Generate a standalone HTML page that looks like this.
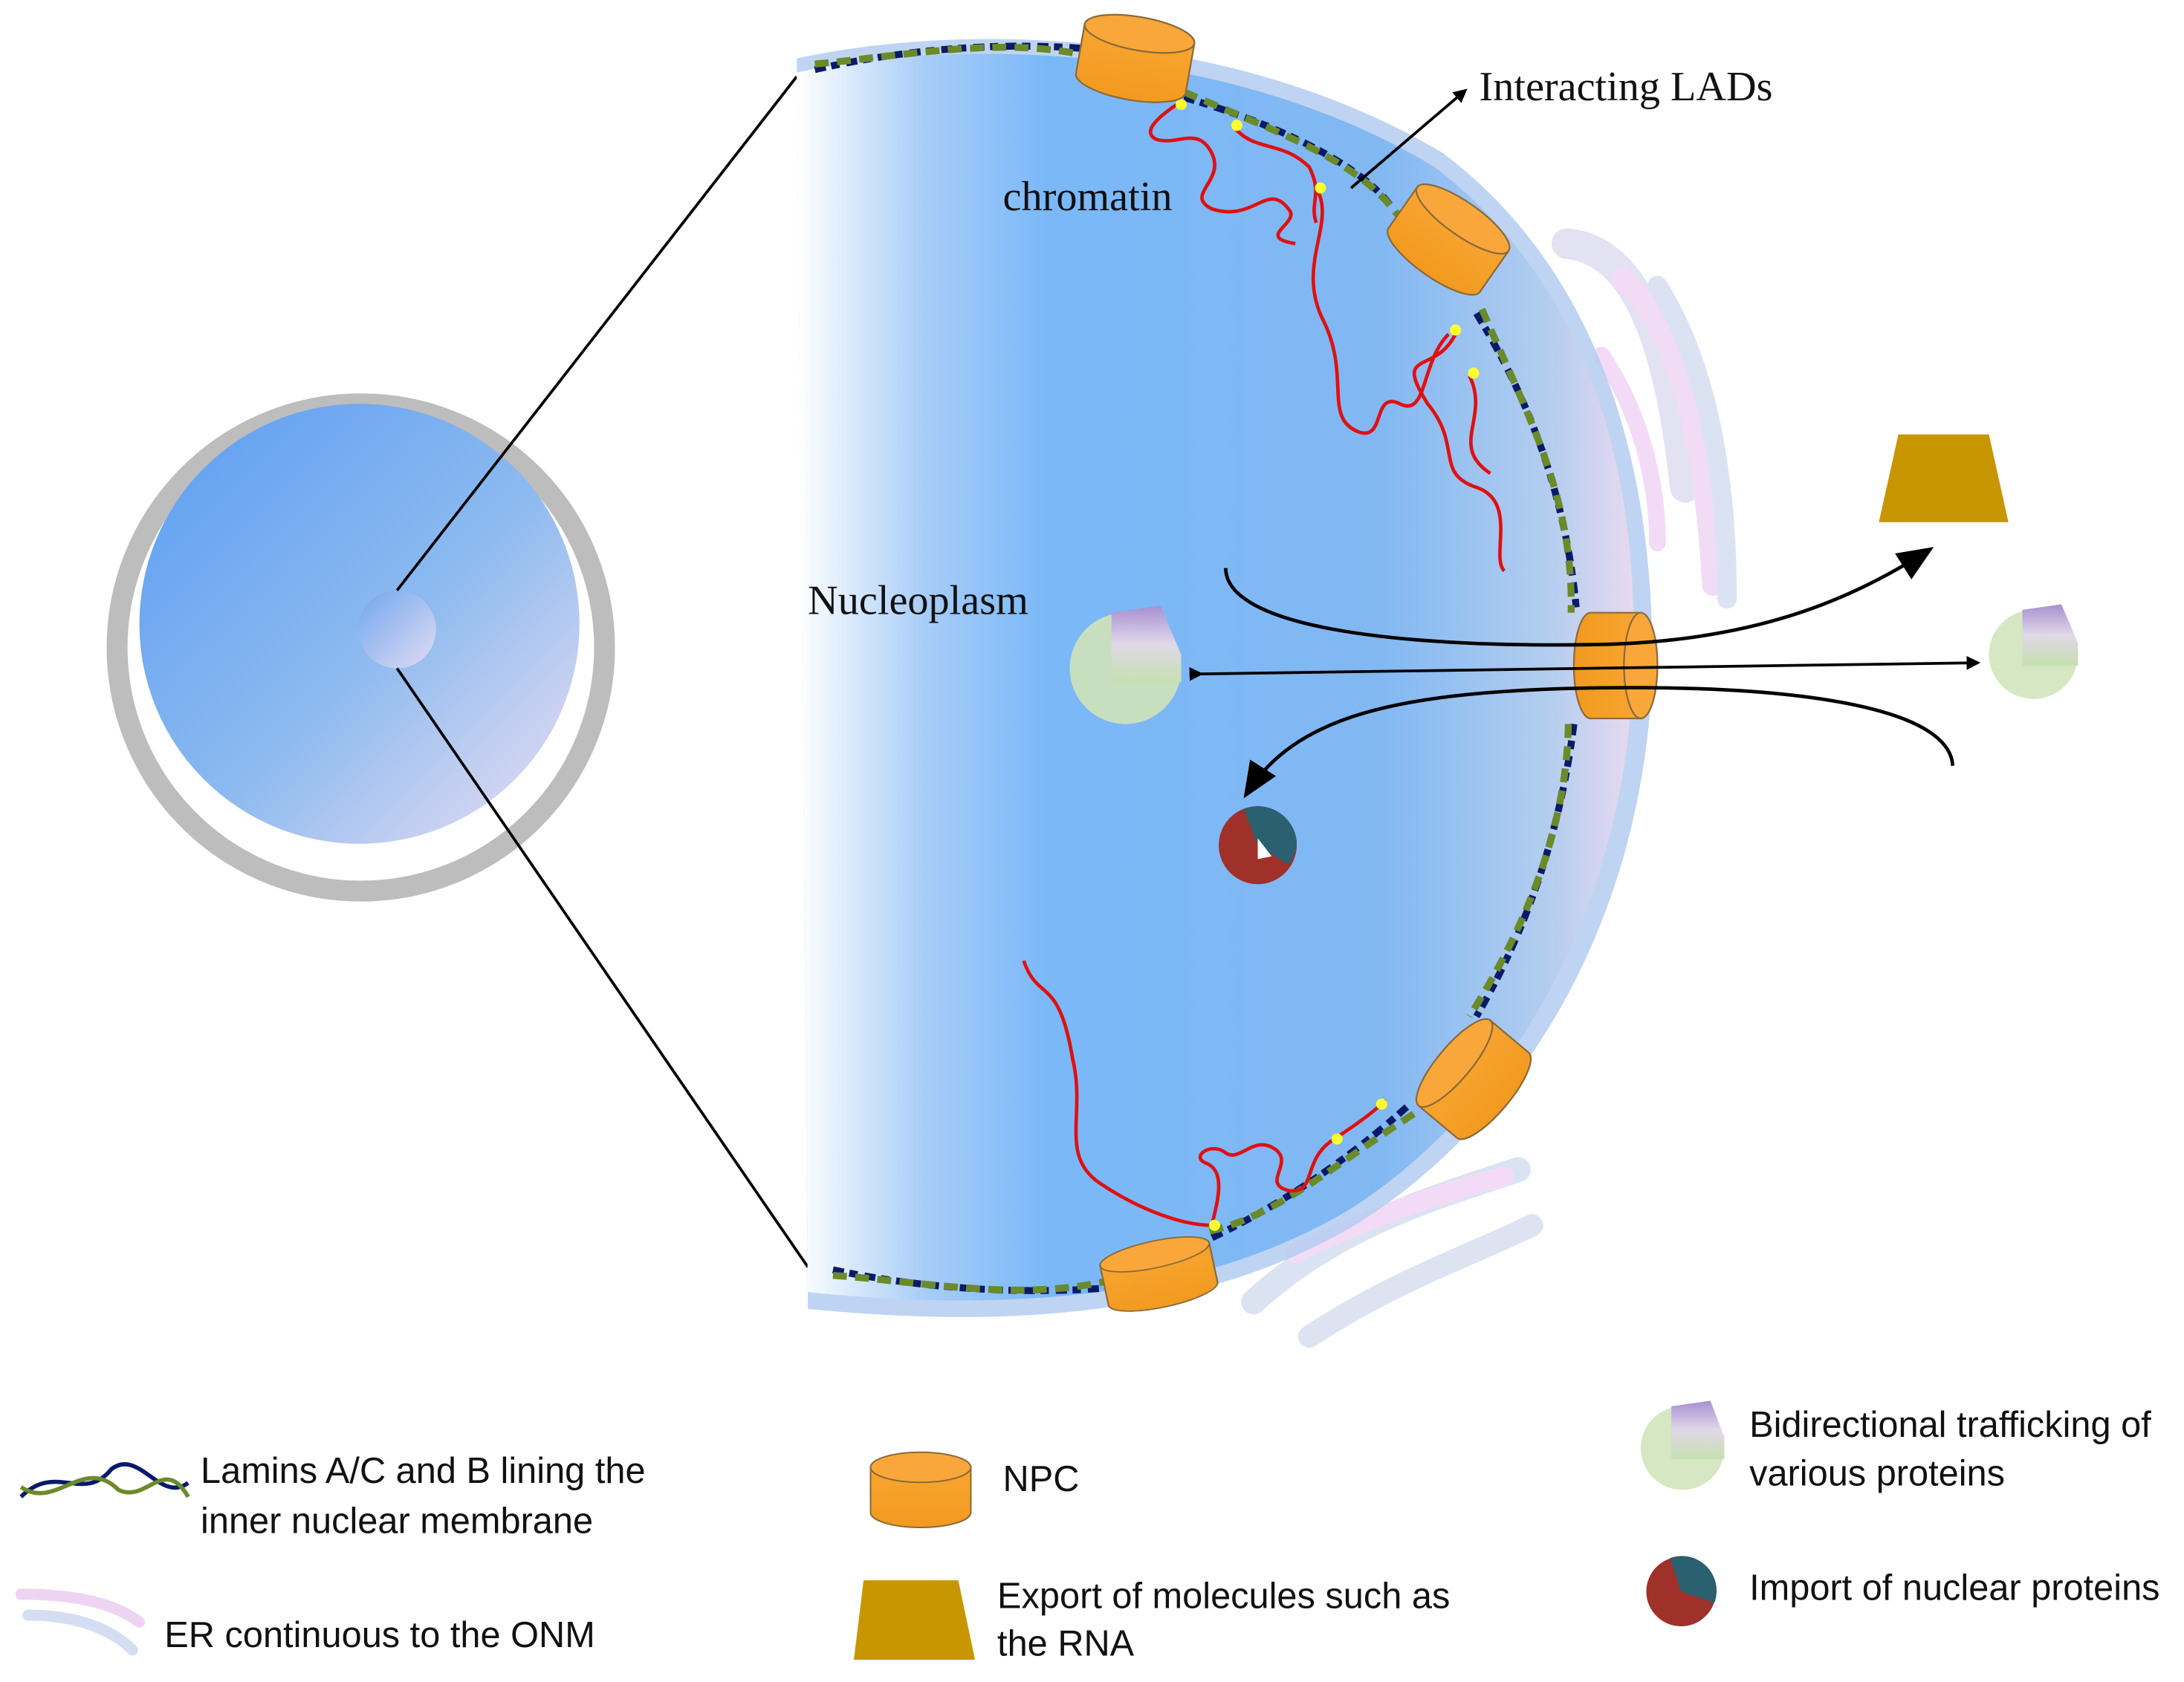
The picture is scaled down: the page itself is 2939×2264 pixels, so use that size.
<!DOCTYPE html>
<html><head><meta charset="utf-8"><style>html,body{margin:0;padding:0;background:#fff}svg{display:block}</style></head><body>
<svg width="2939" height="2264" viewBox="0 0 1568 1208" xmlns="http://www.w3.org/2000/svg">
<defs>
<linearGradient id="small" x1="0" y1="0" x2="1" y2="1"><stop offset="0" stop-color="#5b9cf2"/><stop offset="0.55" stop-color="#8dbaf0"/><stop offset="1" stop-color="#eee0f2"/></linearGradient>
<linearGradient id="tiny" x1="0" y1="0" x2="1" y2="1"><stop offset="0" stop-color="#6fa6ee"/><stop offset="1" stop-color="#e3dcf3"/></linearGradient>
<linearGradient id="big" x1="0" y1="0" x2="1" y2="0"><stop offset="0" stop-color="#ffffff"/><stop offset="0.15" stop-color="#a9cdf8"/><stop offset="0.3" stop-color="#7ab8f8"/><stop offset="0.7" stop-color="#82b8f2"/><stop offset="0.9" stop-color="#b4cdef"/><stop offset="1" stop-color="#e8d9f0"/></linearGradient>
<linearGradient id="cyl" x1="0" y1="0" x2="0" y2="1"><stop offset="0" stop-color="#f7a531"/><stop offset="1" stop-color="#f29a1f"/></linearGradient>
<linearGradient id="prot" x1="0" y1="0" x2="0" y2="1"><stop offset="0" stop-color="#a78fd0"/><stop offset="0.5" stop-color="#e0d8e8"/><stop offset="1" stop-color="#c5e0b0"/></linearGradient>
<marker id="ah" markerWidth="10" markerHeight="10" refX="8" refY="5" orient="auto" markerUnits="userSpaceOnUse"><path d="M0,0 L10,5 L0,10 z" fill="#000"/></marker>
<marker id="ahb" markerWidth="26" markerHeight="22" refX="22" refY="11" orient="auto" markerUnits="userSpaceOnUse"><path d="M0,0 L26,11 L0,22 z" fill="#000"/></marker>
<g id="npc"><path d="M-40,-18 L40,-18 L40,18 A40,12 0 0 1 -40,18 Z" fill="url(#cyl)" stroke="#8a6a3a" stroke-width="1.2"/><ellipse cx="0" cy="-18" rx="40" ry="12" fill="#f9a73a" stroke="#8a6a3a" stroke-width="1.2"/></g>
</defs>

<circle cx="259" cy="465" r="175" fill="none" stroke="#bdbdbd" stroke-width="15"/>
<circle cx="258" cy="448" r="158" fill="url(#small)"/>
<circle cx="285" cy="452" r="28" fill="url(#tiny)"/>
<line x1="285" y1="424" x2="572" y2="55" stroke="#000" stroke-width="2"/>
<line x1="285" y1="480" x2="580" y2="910" stroke="#000" stroke-width="2"/>

<g fill="none" stroke-linecap="round" opacity="0.5">
<path d="M1125,175 C1180,180 1200,260 1210,350" stroke="#c9c7e8" stroke-width="22"/>
<path d="M1165,200 C1210,240 1225,330 1230,420" stroke="#e4b8ec" stroke-width="16"/>
<path d="M1190,205 C1225,260 1240,340 1240,430" stroke="#b8c8e8" stroke-width="14"/>
<path d="M1150,255 C1180,300 1190,350 1190,390" stroke="#e8b8f0" stroke-width="12"/>
<path d="M900,935 C960,880 1030,860 1090,840" stroke="#b8c8e8" stroke-width="18"/>
<path d="M930,900 C980,875 1040,855 1080,845" stroke="#e8b8f0" stroke-width="14"/>
<path d="M940,960 C1000,920 1060,900 1100,880" stroke="#bcc8e4" stroke-width="16"/>
</g>

<path d="M572,42 C700,14 893,24 1036,110 C1145,192 1190,330 1186,490 C1178,658 1098,800 976,878 C853,952 700,952 580,940 Z" fill="#b4cdf0" opacity="0.85"/>
<path d="M572,52 C700,25 890,35 1030,120 C1135,200 1180,330 1172,490 C1165,650 1090,790 970,868 C850,940 700,940 580,928 Z" fill="url(#big)"/>

<g fill="none" stroke-width="5">
<path d="M585,50 C650,35 720,30 780,35" stroke="#0a1a6a" stroke-dasharray="8 4 6 5"/>
<path d="M585,46 C650,40 720,26 780,40" stroke="#6b8a2a" stroke-dasharray="10 6"/>
<path d="M850,70 C920,90 980,120 1000,150" stroke="#0a1a6a" stroke-dasharray="8 4 6 5"/>
<path d="M850,66 C920,96 975,115 1004,155" stroke="#6b8a2a" stroke-dasharray="10 6"/>
<path d="M1060,225 C1100,290 1125,360 1132,440" stroke="#0a1a6a" stroke-dasharray="8 4 6 5"/>
<path d="M1064,222 C1095,295 1130,355 1128,440" stroke="#6b8a2a" stroke-dasharray="10 6"/>
<path d="M1130,520 C1120,600 1095,670 1060,730" stroke="#0a1a6a" stroke-dasharray="8 4 6 5"/>
<path d="M1126,520 C1125,600 1090,675 1055,730" stroke="#6b8a2a" stroke-dasharray="10 6"/>
<path d="M1010,795 C960,840 910,870 868,890" stroke="#0a1a6a" stroke-dasharray="8 4 6 5"/>
<path d="M1015,800 C960,835 915,875 865,885" stroke="#6b8a2a" stroke-dasharray="10 6"/>
<path d="M598,912 C660,925 730,930 795,925" stroke="#0a1a6a" stroke-dasharray="8 4 6 5"/>
<path d="M598,916 C660,920 730,935 795,920" stroke="#6b8a2a" stroke-dasharray="10 6"/>
</g>

<g fill="none" stroke="#e01010" stroke-width="2.5">
<path d="M845,75 C830,85 820,95 830,100 C845,105 860,90 870,110 C880,130 850,140 870,150 C900,160 910,130 925,150 C935,160 900,170 930,175"/>
<path d="M885,90 C900,110 920,100 940,120 C950,140 940,145 945,160"/>
<path d="M945,135 C960,160 930,190 950,230 C970,270 950,300 975,310 C995,318 985,280 1005,290 C1025,300 1020,260 1040,240"/>
<path d="M1045,240 C1030,270 1000,250 1025,290 C1050,320 1030,340 1060,350 C1090,360 1070,400 1080,410"/>
<path d="M1055,270 C1070,300 1040,320 1070,340"/>
<path d="M735,690 C745,720 760,700 770,760 C780,800 760,830 790,850 C820,870 850,880 870,880"/>
<path d="M870,880 C875,860 880,840 865,835 C855,830 870,820 880,828 C890,835 900,815 915,825 C930,835 905,850 925,855 C945,858 935,835 955,820 C970,810 985,800 995,790"/>
</g>
<g fill="#ffff30"><circle cx="848" cy="75" r="4"/><circle cx="888" cy="90" r="4"/><circle cx="948" cy="135" r="4"/><circle cx="1045" cy="237" r="4"/><circle cx="1058" cy="268" r="4"/><circle cx="872" cy="880" r="4"/><circle cx="960" cy="818" r="4"/><circle cx="992" cy="793" r="4"/></g>

<use href="#npc" transform="translate(815,42) rotate(10)"/>
<use href="#npc" transform="translate(1040,172) rotate(35)"/>
<use href="#npc" transform="translate(1160,478) rotate(90) scale(0.95,1)"/>
<use href="#npc" transform="translate(1058,775) rotate(-50)"/>
<use href="#npc" transform="translate(832,915) rotate(-12) scale(1,0.8)"/>

<path d="M880,408 C880,450 1000,465 1140,463 C1260,462 1330,430 1385,395" fill="none" stroke="#000" stroke-width="2.5" marker-end="url(#ahb)"/>
<line x1="862" y1="484" x2="1420" y2="476" stroke="#000" stroke-width="2" marker-start="url(#ah)" marker-end="url(#ah)"/>
<path d="M1402,550 C1400,510 1300,492 1150,494 C1000,496 930,515 895,570" fill="none" stroke="#000" stroke-width="2.5" marker-end="url(#ahb)"/>
<line x1="970" y1="135" x2="1052" y2="65" stroke="#000" stroke-width="2" marker-end="url(#ah)"/>

<path d="M1363,312 L1428,312 L1442,375 L1349,375 Z" fill="#c89600"/>
<g transform="translate(808,480)"><circle r="40" fill="#cfe3b8" opacity="0.9"/><path d="M-10,-40 L25,-45 L40,-10 L40,10 L-10,10 Z" fill="url(#prot)"/></g>
<g transform="translate(1460,470) scale(0.8)"><circle r="40" fill="#d6e7c4"/><path d="M-10,-40 L25,-45 L40,-10 L40,10 L-10,10 Z" fill="url(#prot)"/></g>
<g transform="translate(903,607)"><circle r="28" fill="#a0302a"/><path d="M0,0 L-10,-26 A28,28 0 0 1 28,-3 Z" fill="#2a6070"/><path d="M0,0 L28,-3 A28,28 0 0 1 22,14 Z" fill="#2a6070"/><path d="M0,-5 L10,8 L0,10 Z" fill="#fff"/></g>

<g font-family="Liberation Serif, serif" font-size="30" fill="#111">
<text x="1062" y="72">Interacting LADs</text>
<text x="720" y="151">chromatin</text>
<text x="580" y="441">Nucleoplasm</text>
</g>

<g fill="none" stroke-width="3"><path d="M15,1075 C40,1050 60,1080 80,1055 C100,1040 115,1080 135,1065" stroke="#0a1a6a"/><path d="M15,1068 C40,1085 60,1045 85,1070 C105,1080 118,1045 135,1075" stroke="#6b8a2a"/></g>
<g fill="none" stroke-linecap="round" opacity="0.6"><path d="M15,1145 C50,1145 80,1150 100,1165" stroke="#e4b8ec" stroke-width="8"/><path d="M20,1160 C55,1160 80,1170 95,1185" stroke="#b8c8e8" stroke-width="8"/></g>
<use href="#npc" transform="translate(661,1070) scale(0.9,0.9)"/>
<path d="M620,1135 L688,1135 L700,1192 L613,1192 Z" fill="#c89600"/>
<g transform="translate(1208,1040)"><circle r="30" fill="#d6e7c4"/><path d="M-8,-30 L20,-34 L30,-8 L30,8 L-8,8 Z" fill="url(#prot)"/></g>
<g transform="translate(1207,1143)"><circle r="25" fill="#a0302a"/><path d="M0,0 L-8,-24 A25,25 0 0 1 24,8 Z" fill="#2a6070"/></g>
<g font-family="Liberation Sans, sans-serif" font-size="26" fill="#111">
<text x="144" y="1065">Lamins A/C and B lining the</text>
<text x="144" y="1101">inner nuclear membrane</text>
<text x="118" y="1183">ER continuous to the ONM</text>
<text x="720" y="1071">NPC</text>
<text x="716" y="1155">Export of molecules such as</text>
<text x="716" y="1189">the RNA</text>
<text x="1256" y="1032">Bidirectional trafficking of</text>
<text x="1256" y="1067">various proteins</text>
<text x="1256" y="1149">Import of nuclear proteins</text>
</g>
</svg>
</body></html>
